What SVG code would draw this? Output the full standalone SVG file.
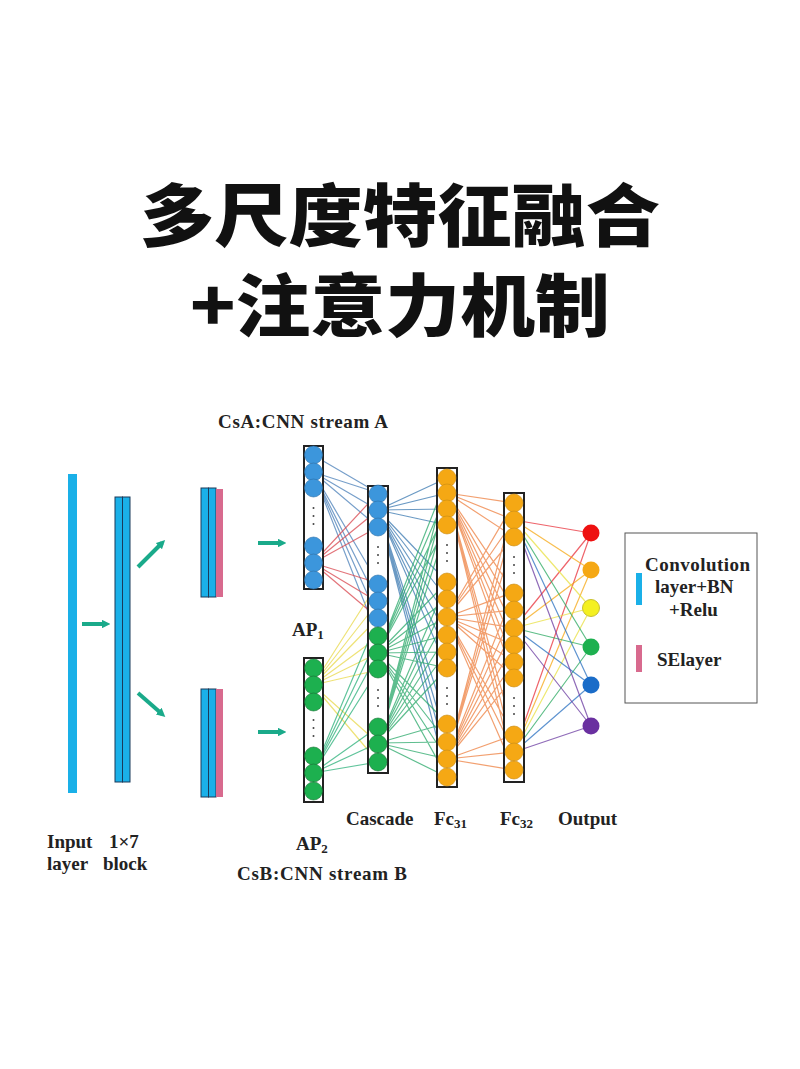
<svg xmlns="http://www.w3.org/2000/svg" width="800" height="1069" viewBox="0 0 800 1069">
<style>
.t{font-family:"Liberation Serif",serif;font-weight:bold;fill:#222;font-size:19px}
.h{font-family:"Noto Sans CJK SC",sans-serif;font-weight:900;font-size:68px;fill:#111;text-anchor:middle}
.cb{fill:#1ab0e8;stroke:#1a3a5a;stroke-width:1}
.pk{fill:#d86a8e}
.col{fill:#fff;stroke:#222;stroke-width:2}
.b{fill:#3c96dc;stroke:#2a6fa8;stroke-width:0.6}
.g{fill:#1db04f;stroke:#11702f;stroke-width:0.6}
.o{fill:#f5a814;stroke:#c88a10;stroke-width:0.6}
.ar{stroke:#1aaa8a;stroke-width:4;fill:none;marker-end:url(#ah)}
.ln{fill:none;stroke-width:1.2;stroke-opacity:0.75}
.dot{fill:#444}
</style>
<defs>
<marker id="ah" viewBox="0 0 10 10" refX="5" refY="5" markerWidth="2.2" markerHeight="2.2" orient="auto"><path d="M0,0 L10,5 L0,10 z" fill="#1aaa8a"/></marker>
</defs>
<rect width="800" height="1069" fill="#fff"/>
<text class="h" x="400" y="241" textLength="520" lengthAdjust="spacingAndGlyphs">多尺度特征融合</text>
<text class="h" x="400" y="331" textLength="420" lengthAdjust="spacingAndGlyphs">+注意力机制</text>

<g id="connectors">
<path class="ln" stroke="#4a7fb8" d="M313,472 L378,493 M313,472 L378,510 M313,472 L378,527 M313,472 L378,583 M313,472 L378,602 M313,472 L378,618 M313,472 L378,637 M313,455 L378,493"/>
<path class="ln" stroke="#d8454d" d="M313,563 L378,493 M313,563 L378,510 M313,563 L378,527 M313,563 L378,583 M313,563 L378,602 M313,563 L378,618"/>
<path class="ln" stroke="#e8d84a" d="M313,685 L378,583 M313,685 L378,602 M313,685 L378,618 M313,685 L378,637 M313,685 L378,653 M313,685 L378,670 M313,685 L378,743 M313,685 L378,762"/>
<path class="ln" stroke="#2bb07a" d="M313,773 L378,637 M313,773 L378,653 M313,773 L378,670 M313,773 L378,727 M313,773 L378,743 M313,773 L378,762 M313,773 L378,618"/>
<path class="ln" stroke="#3a78b0" d="M378,510 L447,478 M378,510 L447,493 M378,510 L447,509 M378,510 L447,525 M378,510 L447,582 M378,510 L447,599 M378,510 L447,617 M378,510 L447,635 M378,510 L447,652 M378,510 L447,668 M378,510 L447,723 M378,510 L447,742 M378,510 L447,759 M378,510 L447,777"/>
<path class="ln" stroke="#2aa86a" d="M378,653 L447,478 M378,653 L447,493 M378,653 L447,509 M378,653 L447,525 M378,653 L447,582 M378,653 L447,599 M378,653 L447,617 M378,653 L447,635 M378,653 L447,652 M378,653 L447,668 M378,653 L447,723 M378,653 L447,742 M378,653 L447,759 M378,653 L447,777 M378,743 L447,478 M378,743 L447,493 M378,743 L447,509 M378,743 L447,525 M378,743 L447,582 M378,743 L447,599 M378,743 L447,617 M378,743 L447,635 M378,743 L447,652 M378,743 L447,668 M378,743 L447,723 M378,743 L447,742 M378,743 L447,759 M378,743 L447,777"/>
<path class="ln" stroke="#ee8040" d="M447,493 L514,503 M447,493 L514,520 M447,493 L514,537 M447,493 L514,592 M447,493 L514,610 M447,493 L514,628 M447,493 L514,645 M447,493 L514,662 M447,493 L514,677 M447,493 L514,735 M447,493 L514,752 M447,493 L514,770 M447,617 L514,503 M447,617 L514,520 M447,617 L514,537 M447,617 L514,592 M447,617 L514,610 M447,617 L514,628 M447,617 L514,645 M447,617 L514,662 M447,617 L514,677 M447,617 L514,735 M447,617 L514,752 M447,617 L514,770 M447,759 L514,503 M447,759 L514,520 M447,759 L514,537 M447,759 L514,592 M447,759 L514,610 M447,759 L514,628 M447,759 L514,645 M447,759 L514,662 M447,759 L514,677 M447,759 L514,735 M447,759 L514,752 M447,759 L514,770"/>
<path class="ln" stroke="#e8303a" d="M514,520 L591,533 M514,628 L591,533 M514,752 L591,533"/>
<path class="ln" stroke="#f5a814" d="M514,520 L591,570 M514,628 L591,570 M514,752 L591,570"/>
<path class="ln" stroke="#e8e040" d="M514,520 L591,608 M514,628 L591,608 M514,752 L591,608"/>
<path class="ln" stroke="#2aa860" d="M514,520 L591,647 M514,628 L591,647 M514,752 L591,647"/>
<path class="ln" stroke="#2a70c0" d="M514,520 L591,685 M514,628 L591,685 M514,752 L591,685"/>
<path class="ln" stroke="#6a3aa0" d="M514,520 L591,726 M514,628 L591,726 M514,752 L591,726"/>
<line class="ar" x1="82" y1="624" x2="106" y2="624"/>
<line class="ar" x1="138" y1="567" x2="162" y2="543"/>
<line class="ar" x1="138" y1="693" x2="162" y2="714"/>
<line class="ar" x1="258" y1="543" x2="282" y2="543"/>
<line class="ar" x1="258" y1="732" x2="282" y2="732"/>
</g>

<g id="input"><rect x="68" y="474" width="9" height="319" fill="#1ab0e8"/></g>
<g id="block"><rect class="cb" x="115" y="497" width="7.5" height="285"/><rect class="cb" x="122.5" y="497" width="7.5" height="285"/></g>
<g id="streamA"><rect class="cb" x="201" y="488" width="7.5" height="109"/><rect class="cb" x="208.5" y="488" width="7.5" height="109"/><rect class="pk" x="216" y="489" width="7" height="108"/></g>
<g id="streamB"><rect class="cb" x="201" y="689" width="7.5" height="108"/><rect class="cb" x="208.5" y="689" width="7.5" height="108"/><rect class="pk" x="216" y="689" width="7" height="108"/></g>

<g id="AP1"><rect class="col" x="304" y="446" width="19" height="143"/>
<circle class="b" cx="313.5" cy="455" r="9"/><circle class="b" cx="313.5" cy="472" r="9"/><circle class="b" cx="313.5" cy="488" r="9"/>
<circle class="dot" cx="313.5" cy="508" r="1"/><circle class="dot" cx="313.5" cy="516" r="1"/><circle class="dot" cx="313.5" cy="524" r="1"/>
<circle class="b" cx="313.5" cy="546" r="9"/><circle class="b" cx="313.5" cy="563" r="9"/><circle class="b" cx="313.5" cy="580" r="9"/></g>

<g id="AP2"><rect class="col" x="304" y="658" width="19" height="144"/>
<circle class="g" cx="313.5" cy="668" r="9"/><circle class="g" cx="313.5" cy="685" r="9"/><circle class="g" cx="313.5" cy="702" r="9"/>
<circle class="dot" cx="313.5" cy="720" r="1"/><circle class="dot" cx="313.5" cy="728" r="1"/><circle class="dot" cx="313.5" cy="736" r="1"/>
<circle class="g" cx="313.5" cy="756" r="9"/><circle class="g" cx="313.5" cy="773" r="9"/><circle class="g" cx="313.5" cy="791" r="9"/></g>

<g id="cascade"><rect class="col" x="368" y="486" width="20" height="287"/>
<circle class="b" cx="378" cy="494" r="9"/><circle class="b" cx="378" cy="510" r="9"/><circle class="b" cx="378" cy="527" r="9"/>
<circle class="dot" cx="378" cy="547" r="1"/><circle class="dot" cx="378" cy="555" r="1"/><circle class="dot" cx="378" cy="563" r="1"/>
<circle class="b" cx="378" cy="584" r="9"/><circle class="b" cx="378" cy="601" r="9"/><circle class="b" cx="378" cy="618" r="9"/>
<circle class="g" cx="378" cy="636" r="9"/><circle class="g" cx="378" cy="653" r="9"/><circle class="g" cx="378" cy="669" r="9"/>
<circle class="dot" cx="378" cy="690" r="1"/><circle class="dot" cx="378" cy="698" r="1"/><circle class="dot" cx="378" cy="706" r="1"/>
<circle class="g" cx="378" cy="727" r="9"/><circle class="g" cx="378" cy="744" r="9"/><circle class="g" cx="378" cy="762" r="9"/></g>

<g id="fc31"><rect class="col" x="437" y="468" width="20" height="319"/>
<circle class="o" cx="447" cy="478" r="9"/><circle class="o" cx="447" cy="493" r="9"/><circle class="o" cx="447" cy="509" r="9"/><circle class="o" cx="447" cy="525" r="9"/>
<circle class="dot" cx="447" cy="545" r="1"/><circle class="dot" cx="447" cy="553" r="1"/><circle class="dot" cx="447" cy="561" r="1"/>
<circle class="o" cx="447" cy="582" r="9"/><circle class="o" cx="447" cy="599" r="9"/><circle class="o" cx="447" cy="617" r="9"/><circle class="o" cx="447" cy="635" r="9"/><circle class="o" cx="447" cy="652" r="9"/><circle class="o" cx="447" cy="668" r="9"/>
<circle class="dot" cx="447" cy="688" r="1"/><circle class="dot" cx="447" cy="696" r="1"/><circle class="dot" cx="447" cy="704" r="1"/>
<circle class="o" cx="447" cy="724" r="9"/><circle class="o" cx="447" cy="742" r="9"/><circle class="o" cx="447" cy="759" r="9"/><circle class="o" cx="447" cy="777" r="9"/></g>

<g id="fc32"><rect class="col" x="504" y="493" width="20" height="289"/>
<circle class="o" cx="514" cy="503" r="9"/><circle class="o" cx="514" cy="520" r="9"/><circle class="o" cx="514" cy="537" r="9"/>
<circle class="dot" cx="514" cy="557" r="1"/><circle class="dot" cx="514" cy="565" r="1"/><circle class="dot" cx="514" cy="573" r="1"/>
<circle class="o" cx="514" cy="593" r="9"/><circle class="o" cx="514" cy="610" r="9"/><circle class="o" cx="514" cy="628" r="9"/><circle class="o" cx="514" cy="645" r="9"/><circle class="o" cx="514" cy="662" r="9"/><circle class="o" cx="514" cy="678" r="9"/>
<circle class="dot" cx="514" cy="698" r="1"/><circle class="dot" cx="514" cy="706" r="1"/><circle class="dot" cx="514" cy="714" r="1"/>
<circle class="o" cx="514" cy="735" r="9"/><circle class="o" cx="514" cy="752" r="9"/><circle class="o" cx="514" cy="770" r="9"/></g>

<g id="output">
<circle cx="591" cy="533" r="8.5" fill="#ee1010"/><circle cx="591" cy="570" r="8.5" fill="#f5a814"/><circle cx="591" cy="608" r="8.5" fill="#f4f020" stroke="#c8c030"/>
<circle cx="591" cy="647" r="8.5" fill="#1db04f"/><circle cx="591" cy="685" r="8.5" fill="#1a6cc8"/><circle cx="591" cy="726" r="8.5" fill="#6a30a0"/></g>

<g id="legend"><rect x="625" y="533" width="132" height="170" fill="#fff" stroke="#555" stroke-width="1"/>
<rect x="636" y="573" width="6" height="32" fill="#1ab0e8"/><rect x="636" y="645" width="6" height="27" fill="#d86a8e"/>
<text class="t" x="645" y="571" textLength="105">Convolution</text>
<text class="t" x="655" y="593">layer+BN</text>
<text class="t" x="669" y="616">+Relu</text>
<text class="t" x="657" y="666">SElayer</text></g>

<g id="labels">
<text class="t" x="218" y="428" textLength="170">CsA:CNN stream A</text>
<text class="t" x="292" y="636">AP<tspan font-size="13" dy="3">1</tspan></text>
<text class="t" x="296" y="850">AP<tspan font-size="13" dy="3">2</tspan></text>
<text class="t" x="237" y="880" textLength="170">CsB:CNN stream B</text>
<text class="t" x="47" y="848">Input</text>
<text class="t" x="47" y="870">layer</text>
<text class="t" x="109" y="848">1×7</text>
<text class="t" x="103" y="870">block</text>
<text class="t" x="346" y="825">Cascade</text>
<text class="t" x="434" y="825">Fc<tspan font-size="13" dy="3">31</tspan></text>
<text class="t" x="500" y="825">Fc<tspan font-size="13" dy="3">32</tspan></text>
<text class="t" x="558" y="825">Output</text>
</g>
</svg>
